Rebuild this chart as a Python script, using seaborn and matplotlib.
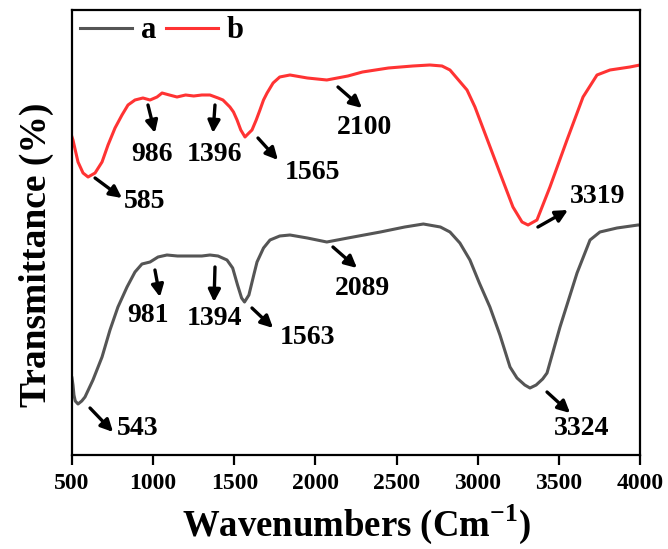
import matplotlib
matplotlib.use("Agg")
import matplotlib.pyplot as plt
import seaborn as sns
import pandas as pd

# FTIR spectra (wavenumber in cm^-1, transmittance in arbitrary units)
wn_a = [500, 506, 512, 520, 537, 560, 580, 629, 685, 734, 783, 839, 888, 931,
        981, 1030, 1085, 1150, 1200, 1300, 1350, 1400, 1455, 1490, 1520, 1545,
        1563, 1590, 1620, 1640, 1680, 1720, 1780, 1843, 1950, 2070, 2200, 2400,
        2550, 2665, 2770, 2829, 2890, 2952, 3010, 3075, 3137, 3199, 3242, 3290,
        3322, 3360, 3400, 3427, 3507, 3612, 3692, 3753, 3858, 3988, 4000]
tr_a = [77, 70, 60, 54, 51, 54, 58, 75, 98, 125, 148, 168, 183, 191,
        193, 198, 200, 199, 199, 199, 200, 199, 195, 187, 170, 157,
        153, 160, 180, 193, 207, 215, 219, 220, 217, 213, 217, 223,
        228, 231, 228, 223, 212, 195, 172, 148, 120, 88, 77, 70,
        67, 70, 76, 82, 128, 182, 215, 223, 227, 230, 230]

wn_b = [500, 506, 520, 537, 568, 599, 642, 685, 722, 765, 808, 845, 888, 937,
        981, 1024, 1055, 1100, 1147, 1200, 1250, 1300, 1350, 1400, 1430, 1473,
        1495, 1517, 1540, 1566, 1590, 1609, 1635, 1658, 1680, 1702, 1739, 1780,
        1843, 1950, 2070, 2200, 2290, 2450, 2600, 2705, 2780, 2829, 2934, 2983,
        3032, 3137, 3217, 3273, 3310, 3365, 3445, 3550, 3649, 3735, 3815, 3938,
        4000]
tr_b = [318, 315, 305, 293, 282, 278, 282, 293, 310, 327, 340, 350, 355, 357,
        355, 358, 362, 360, 358, 360, 359, 360, 360, 357, 355, 348,
        343, 335, 325, 318, 322, 325, 335, 345, 355, 362, 372, 378,
        380, 377, 375, 379, 383, 387, 389, 390, 389, 385, 365, 348,
        327, 282, 248, 233, 230, 235, 268, 315, 358, 380, 385, 388,
        390]

labels = ["a", "b"]
colors = ["#555555", "#ff3333"]

# peak labels: (text, arrow tail, arrow head, label centre)
peaks_a = [("543", (611, 47), (753, 23), (907, 27)),
           ("981", (1011, 185), (1042, 158), (968, 140)),
           ("1394", (1381, 188), (1375, 153), (1375, 137)),
           ("1563", (1609, 147), (1739, 127), (1954, 118)),
           ("2089", (2108, 208), (2256, 187), (2293, 167)),
           ("3324", (3427, 63), (3569, 42), (3643, 27))]
peaks_b = [("585", (642, 277), (808, 257), (950, 254)),
           ("986", (968, 350), (1011, 322), (993, 300)),
           ("1396", (1381, 350), (1369, 322), (1381, 300)),
           ("1565", (1646, 317), (1769, 295), (1979, 282)),
           ("2100", (2139, 368), (2287, 347), (2305, 327)),
           ("3319", (3371, 228), (3556, 245), (3741, 258))]

df = pd.concat([
    pd.DataFrame({"wn": wn_a, "T": tr_a, "sample": labels[0]}),
    pd.DataFrame({"wn": wn_b, "T": tr_b, "sample": labels[1]}),
])

plt.rcParams["font.family"] = ["Liberation Serif", "DejaVu Serif"]
plt.rcParams["font.weight"] = "bold"
plt.rcParams["axes.labelweight"] = "bold"
plt.rcParams["mathtext.fontset"] = "custom"
plt.rcParams["mathtext.rm"] = "Liberation Serif:bold"
plt.rcParams["mathtext.bf"] = "Liberation Serif:bold"

fig = plt.figure(figsize=(6.68, 5.49), dpi=100)
ax = fig.add_axes([0.1078, 0.1712, 0.8503, 0.8106])

sns.lineplot(data=df, x="wn", y="T", hue="sample", palette=colors,
             linewidth=2.2, ax=ax, legend=True, sort=False)

ax.set_xlim(500, 4000)
ax.set_ylim(0, 445)
ax.set_xticks(range(500, 4001, 500))
ax.set_yticks([])
ax.set_xlabel("Wavenumbers (Cm$^{\\mathrm{-1}}$)", fontsize=26.5, fontweight="bold", labelpad=6)
ax.set_ylabel("Transmittance (%)", fontsize=27, fontweight="bold")
ax.yaxis.set_label_coords(-0.032, 0.449)
ax.tick_params(axis="x", direction="out", length=7, width=1.6, labelsize=17, pad=6)
for lbl in ax.get_xticklabels():
    lbl.set_fontweight("bold")
for sp in ax.spines.values():
    sp.set_linewidth(1.6)
    sp.set_color("black")

arrow = dict(arrowstyle="-|>", color="black", lw=2.4, mutation_scale=18,
             shrinkA=0, shrinkB=0)
for peaks in (peaks_a, peaks_b):
    for txt, tail, head, pos in peaks:
        ax.annotate("", xy=head, xytext=tail, arrowprops=arrow)
        ax.text(pos[0], pos[1], txt, fontsize=20, fontweight="bold",
                ha="center", va="center")

handles, _ = ax.get_legend_handles_labels()
ax.legend(handles, labels, loc="center left", ncol=2, frameon=False,
          prop={"size": 22, "weight": "bold"}, handlelength=1.7,
          handletextpad=0.3, columnspacing=0.3, borderaxespad=0,
          borderpad=0, bbox_to_anchor=(0.014, 0.953))

fig.savefig("out.png", dpi=100)
